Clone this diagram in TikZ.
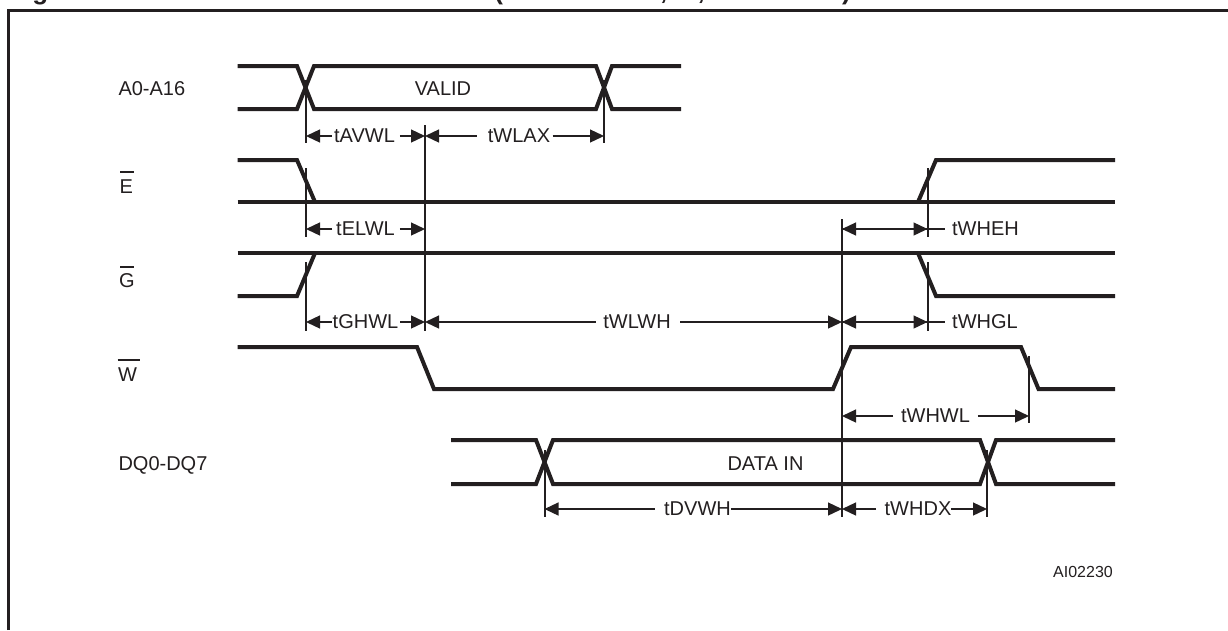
\documentclass[tikz,border=0pt]{standalone}
\usepackage{fontspec}
\setmainfont{Liberation Sans}
\usetikzlibrary{arrows.meta}
\definecolor{ink}{HTML}{231F20}
\tikzset{
  x=1pt,y=-1pt,
  wave/.style={draw=ink,line width=4pt,line join=miter},
  tick/.style={draw=ink,line width=2pt},
  dimline/.style={draw=ink,line width=1.3pt,-{Triangle[length=14pt,width=13pt]}},
  plainline/.style={draw=ink,line width=1.3pt},
  lab/.style={text=ink,font=\fontsize{20}{22}\selectfont,inner sep=0pt,outer sep=0pt},
  sig/.style={lab,anchor=west},
  dim/.style={lab},
  bar/.style={draw=ink,line width=1.3pt},
  ttl/.style={text=ink,inner sep=0pt,font=\bfseries\fontsize{26}{28}\selectfont}
}
\begin{document}
\begin{tikzpicture}
\useasboundingbox (0,0) rectangle (1228,630);
\clip (0,0) rectangle (1228,630);
\fill[white] (0,0) rectangle (1228,630);
% title, cut by the top edge
\node[ttl,anchor=base west] (figno) at (9,-0.5) {Figure 10.};
\node[ttl,anchor=base east] (title) at (851,-0.5) {Write Mode AC Waveforms (Write Enable, W, Controlled)};
% frame
\coordinate (fbl) at (8.5,630); \coordinate (ftl) at (8.5,10); \coordinate (ftr) at (1228,10);
\draw[ink,line width=3pt] (fbl) -- (ftl) -- (ftr);
% signal names
\node[sig] (nA) at (118.5,89) {A0-A16};
\node[sig] (nE) at (119.5,187) {E};
\node[sig] (nG) at (119,281) {G};
\node[sig] (nW) at (118,375) {W};
\node[sig] (nD) at (118.5,465) {DQ0-DQ7};
\draw[bar] (120,172) -- (133.5,172);
\draw[bar] (120,267) -- (133.5,267);
\draw[bar] (117.5,360) -- (139.5,360);
% waveforms
\draw[wave] (237.5,66) -- (297,66) -- (314,109) -- (596,109) -- (612,66) -- (681,66);
\draw[wave] (237.5,109) -- (297,109) -- (314,66) -- (596,66) -- (612,109) -- (681,109);
\draw[wave] (237.5,160) -- (297,160) -- (315,202);
\draw[wave] (237.5,202) -- (1115,202);
\draw[wave] (918,202) -- (936,160) -- (1115,160);
\draw[wave] (237.5,253) -- (1115,253);
\draw[wave] (237.5,296) -- (297,296) -- (315,253);
\draw[wave] (918,253) -- (936,296) -- (1115,296);
\draw[wave] (237.5,347) -- (417,347) -- (434,389) -- (833,389) -- (851,347) -- (1021,347) -- (1038.5,389) -- (1115,389);
\draw[wave] (451,440) -- (536,440) -- (553,484) -- (980,484) -- (996,440) -- (1115,440);
\draw[wave] (451,484) -- (536,484) -- (553,440) -- (980,440) -- (996,484) -- (1115,484);
% data text
\node[lab] (valid) at (443,89) {VALID};
\node[lab] (datain) at (765.5,464) {DATA IN};
\node[lab,font=\fontsize{16}{18}\selectfont] (code) at (1083,572) {AI02230};
% guide lines
\draw[tick] (306,80) -- (306,143);
\draw[tick] (604,80) -- (604,143);
\draw[tick] (425,125) -- (425,331);
\draw[tick] (306,168) -- (306,237);
\draw[tick] (306,262) -- (306,331);
\draw[tick] (842,219) -- (842,517);
\draw[tick] (927.5,168) -- (927.5,237);
\draw[tick] (927.5,262) -- (927.5,331);
\draw[tick] (1029,356) -- (1029,423);
\draw[tick] (544.5,450) -- (544.5,517);
\draw[tick] (987,450) -- (987,517);
% timing labels
\node[dim] (tAVWL) at (364.5,136) {tAVWL};
\node[dim] (tWLAX) at (519,136) {tWLAX};
\node[dim] (tELWL) at (365.5,229) {tELWL};
\node[dim] (tGHWL) at (365.5,322) {tGHWL};
\node[dim] (tWLWH) at (637,322) {tWLWH};
\node[dim] (tWHEH) at (985.5,229) {tWHEH};
\node[dim] (tWHGL) at (985,322) {tWHGL};
\node[dim] (tWHWL) at (935.5,416) {tWHWL};
\node[dim] (tDVWH) at (697.5,509) {tDVWH};
\node[dim] (tWHDX) at (918,509) {tWHDX};
% timing arrows
\coordinate (a1) at (306,136); \coordinate (a2) at (425,136); \coordinate (a3) at (604,136);
\draw[dimline] ([xshift=-2pt]tAVWL.west) -- (a1);
\draw[dimline] ([xshift=5pt]tAVWL.east) -- (a2);
\draw[dimline] ([xshift=-11pt]tWLAX.west) -- (a2);
\draw[dimline] ([xshift=2.5pt]tWLAX.east) -- (a3);
\coordinate (e1) at (306,229); \coordinate (e2) at (425,229);
\draw[dimline] ([xshift=-4pt]tELWL.west) -- (e1);
\draw[dimline] ([xshift=5pt]tELWL.east) -- (e2);
\coordinate (g1) at (306,322); \coordinate (g2) at (425,322); \coordinate (g3) at (842,322); \coordinate (g4) at (927.5,322);
\draw[dimline] ([xshift=-1pt]tGHWL.west) -- (g1);
\draw[dimline] ([xshift=2pt]tGHWL.east) -- (g2);
\draw[dimline] ([xshift=-7.5pt]tWLWH.west) -- (g2);
\draw[dimline] ([xshift=9.5pt]tWLWH.east) -- (g3);
\coordinate (h1) at (842,229); \coordinate (h2) at (927.5,229);
\draw[dimline] (h2) -- (h1);
\draw[dimline] (h1) -- (h2);
\draw[plainline] (h2) -- ([xshift=-7.5pt]tWHEH.west);
\draw[dimline] (g4) -- (g3);
\draw[dimline] (g3) -- (g4);
\draw[plainline] (g4) -- ([xshift=-7.5pt]tWHGL.west);
\coordinate (w1) at (842,416); \coordinate (w2) at (1029,416);
\draw[dimline] ([xshift=-8pt]tWHWL.west) -- (w1);
\draw[dimline] ([xshift=8pt]tWHWL.east) -- (w2);
\coordinate (d1) at (544.5,509); \coordinate (d2) at (842,509); \coordinate (d3) at (987,509);
\draw[dimline] ([xshift=-9.5pt]tDVWH.west) -- (d1);
\draw[dimline] (tDVWH.east) -- (d2);
\draw[dimline] ([xshift=-8.5pt]tWHDX.west) -- (d2);
\draw[dimline] (tWHDX.east) -- (d3);
\end{tikzpicture}
\end{document}
